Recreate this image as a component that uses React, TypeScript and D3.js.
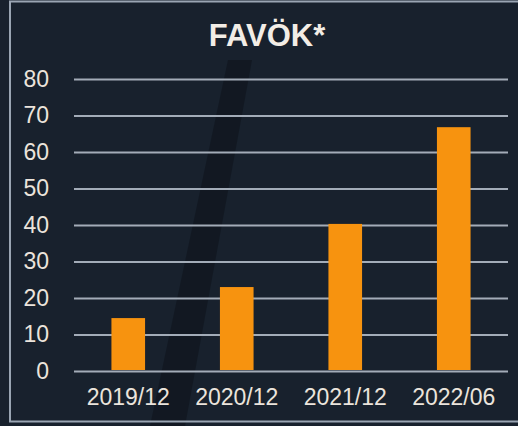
import React, { useRef, useEffect } from "react";
import * as d3 from "d3";

const title = "FAVÖK*";
const periods = ["2019/12", "2020/12", "2021/12", "2022/06"];
const values = [14.5, 23, 40.3, 66.8];
const yTicks = [0, 10, 20, 30, 40, 50, 60, 70, 80];

const W = 518;
const H = 426;
const FONT = "'Liberation Sans', Arial, sans-serif";

const App: React.FC = () => {
  const ref = useRef<SVGSVGElement>(null);

  useEffect(() => {
    if (!ref.current) return;
    const margin = { top: 79, right: 10, bottom: 55, left: 74 };
    const width = W - margin.left - margin.right;
    const height = H - margin.top - margin.bottom;

    const svg = d3.select(ref.current);
    svg.selectAll("*").remove();

    // background, watermark stroke and frame
    svg.append("rect").attr("width", W).attr("height", H).attr("fill", "#18212d");
    svg
      .append("path")
      .attr("d", "M228,60 L252,60 L185,426 L150,426 Z")
      .attr("fill", "#0b1018")
      .attr("opacity", 0.5);
    svg
      .append("rect")
      .attr("x", 10)
      .attr("y", 1.5)
      .attr("width", W)
      .attr("height", 420)
      .attr("fill", "none")
      .attr("stroke", "#9aa5b3")
      .attr("stroke-width", 2);

    svg
      .append("text")
      .attr("x", 267)
      .attr("y", 46)
      .attr("text-anchor", "middle")
      .style("font-family", FONT)
      .style("font-weight", "bold")
      .style("font-size", "31px")
      .attr("fill", "#f2ede6")
      .text(title);

    const chart = svg
      .append("g")
      .attr("transform", `translate(${margin.left},${margin.top})`);

    const x = d3
      .scaleBand()
      .domain(periods)
      .range([0, width])
      .paddingInner(0.69)
      .paddingOuter(0.345);
    const y = d3.scaleLinear().domain([0, 80]).range([height, 0]);

    // gridlines + y labels
    chart
      .append("g")
      .call(
        d3
          .axisLeft(y)
          .tickValues(yTicks)
          .tickSize(-width)
          .tickPadding(25)
          .tickFormat(d3.format("d"))
      )
      .call((g) => g.select(".domain").remove())
      .call((g) =>
        g.selectAll(".tick line").attr("stroke", "#a3acb8").attr("stroke-width", 2.2)
      )
      .call((g) =>
        g
          .selectAll(".tick text")
          .attr("fill", "#ebe4dc")
          .style("font-family", FONT)
          .style("font-size", "23px")
      );

    chart
      .selectAll(".bar")
      .data(values)
      .enter()
      .append("rect")
      .attr("x", (_, i) => x(periods[i]) || 0)
      .attr("y", (d) => y(d))
      .attr("width", x.bandwidth())
      .attr("height", (d) => height - y(d) - 1)
      .attr("fill", "#f7930f");

    chart
      .append("g")
      .attr("transform", `translate(0,${height})`)
      .call(d3.axisBottom(x).tickSize(0).tickPadding(18))
      .call((g) => g.select(".domain").remove())
      .call((g) =>
        g
          .selectAll(".tick text")
          .attr("fill", "#ebe4dc")
          .style("font-family", FONT)
          .style("font-size", "23px")
      );
  }, []);

  return (
    <div
      style={{
        position: "absolute",
        left: 0,
        top: 0,
        width: W,
        height: H,
        overflow: "hidden",
      }}
    >
      <svg ref={ref} width={W} height={H} style={{ display: "block" }}></svg>
    </div>
  );
};

export default App;
